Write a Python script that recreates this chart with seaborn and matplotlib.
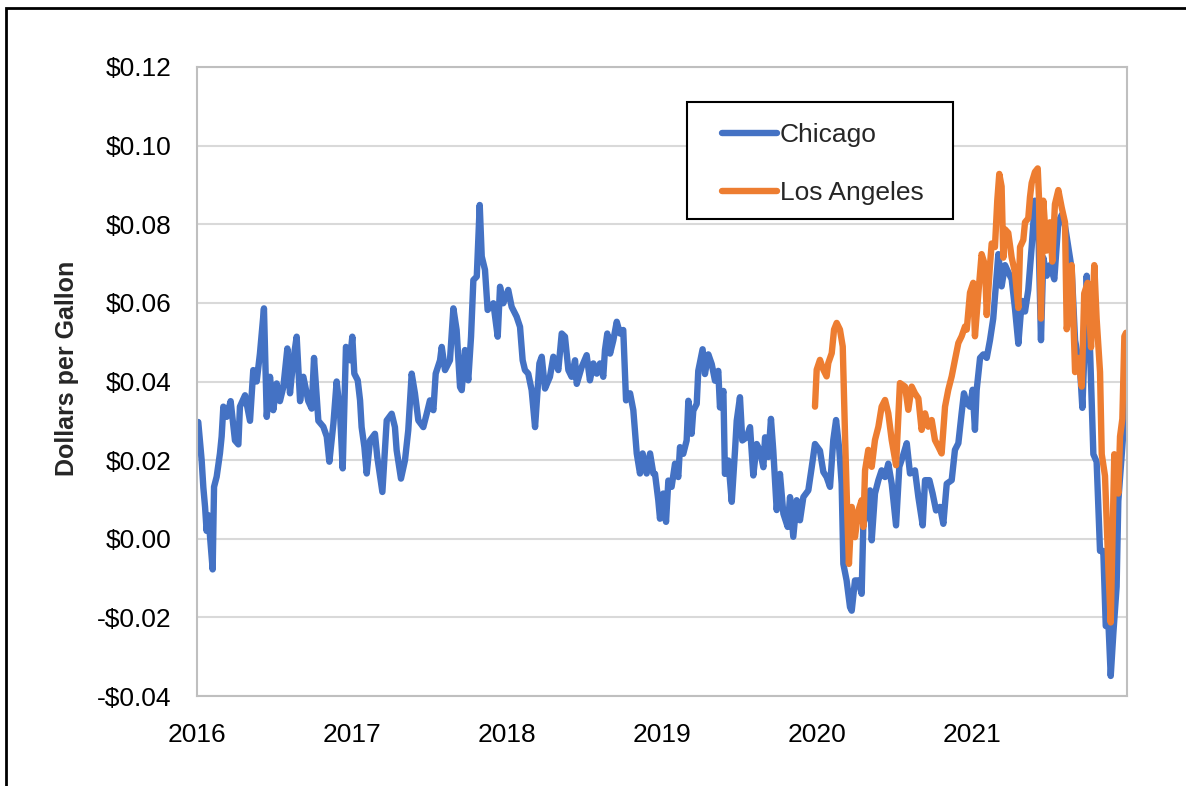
import numpy as np
import pandas as pd
import matplotlib
matplotlib.use("Agg")
import matplotlib.pyplot as plt
from matplotlib.patches import Rectangle
import seaborn as sns

# values (x in decimal years, y in $/gallon)
chi_year = [
    2016.008, 2016.030, 2016.041, 2016.052, 2016.062, 2016.073, 2016.101, 2016.110, 2016.127, 2016.148,
    2016.159, 2016.170, 2016.191, 2016.217, 2016.245, 2016.267, 2016.277, 2016.310, 2016.342, 2016.363,
    2016.385, 2016.406, 2016.432, 2016.450, 2016.471, 2016.492, 2016.514, 2016.535, 2016.557, 2016.583,
    2016.600, 2016.621, 2016.643, 2016.665, 2016.686, 2016.718, 2016.740, 2016.755, 2016.783, 2016.815,
    2016.837, 2016.854, 2016.880, 2016.901, 2016.923, 2016.940, 2016.961, 2016.987, 2017.002, 2017.015,
    2017.037, 2017.052, 2017.062, 2017.080, 2017.095, 2017.116, 2017.148, 2017.163, 2017.196, 2017.224,
    2017.256, 2017.277, 2017.288, 2017.316, 2017.342, 2017.363, 2017.385, 2017.406, 2017.428, 2017.460,
    2017.482, 2017.503, 2017.525, 2017.540, 2017.568, 2017.579, 2017.600, 2017.632, 2017.654, 2017.675,
    2017.697, 2017.708, 2017.729, 2017.750, 2017.768, 2017.783, 2017.805, 2017.824, 2017.837, 2017.858,
    2017.875, 2017.912, 2017.940, 2017.955, 2017.976, 2018.008, 2018.030, 2018.062, 2018.084, 2018.101,
    2018.116, 2018.137, 2018.159, 2018.181, 2018.196, 2018.209, 2018.224, 2018.245, 2018.277, 2018.299,
    2018.331, 2018.353, 2018.374, 2018.396, 2018.417, 2018.439, 2018.450, 2018.482, 2018.514, 2018.535,
    2018.557, 2018.579, 2018.600, 2018.621, 2018.632, 2018.647, 2018.665, 2018.686, 2018.708, 2018.729,
    2018.750, 2018.768, 2018.794, 2018.815, 2018.837, 2018.858, 2018.875, 2018.901, 2018.923, 2018.944,
    2018.955, 2018.976, 2018.987, 2019.008, 2019.026, 2019.041, 2019.062, 2019.084, 2019.105, 2019.116,
    2019.137, 2019.159, 2019.170, 2019.191, 2019.202, 2019.224, 2019.234, 2019.262, 2019.277, 2019.299,
    2019.321, 2019.342, 2019.363, 2019.374, 2019.396, 2019.406, 2019.428, 2019.450, 2019.471, 2019.482,
    2019.503, 2019.518, 2019.546, 2019.568, 2019.589, 2019.611, 2019.632, 2019.654, 2019.665, 2019.686,
    2019.703, 2019.718, 2019.740, 2019.761, 2019.783, 2019.811, 2019.826, 2019.847, 2019.869, 2019.890,
    2019.912, 2019.944, 2019.966, 2019.987, 2020.019, 2020.041, 2020.062, 2020.084, 2020.105, 2020.123,
    2020.144, 2020.159, 2020.170, 2020.191, 2020.213, 2020.224, 2020.245, 2020.267, 2020.288, 2020.299,
    2020.321, 2020.342, 2020.353, 2020.374, 2020.396, 2020.417, 2020.439, 2020.460, 2020.482, 2020.510,
    2020.531, 2020.553, 2020.579, 2020.600, 2020.632, 2020.654, 2020.682, 2020.697, 2020.725, 2020.746,
    2020.768, 2020.794, 2020.815, 2020.837, 2020.869, 2020.890, 2020.912, 2020.933, 2020.948, 2020.966,
    2020.987, 2021.004, 2021.019, 2021.030, 2021.052, 2021.073, 2021.095, 2021.116, 2021.137, 2021.159,
    2021.170, 2021.191, 2021.213, 2021.234, 2021.256, 2021.277, 2021.299, 2021.321, 2021.342, 2021.363,
    2021.385, 2021.406, 2021.428, 2021.445, 2021.460, 2021.482, 2021.503, 2021.531, 2021.557, 2021.579,
    2021.600, 2021.621, 2021.643, 2021.665, 2021.697, 2021.712, 2021.729, 2021.740, 2021.761, 2021.783,
    2021.804, 2021.826, 2021.847, 2021.863, 2021.880, 2021.895, 2021.912, 2021.933, 2021.944, 2021.966,
    2021.983, 2021.994,
]
chi_val = [
    0.0297, 0.0200, 0.0130, 0.0081, 0.0020, 0.0060, -0.0078, 0.0132, 0.0158, 0.0217,
    0.0260, 0.0336, 0.0310, 0.0350, 0.0250, 0.0240, 0.0336, 0.0365, 0.0300, 0.0429,
    0.0400, 0.0471, 0.0586, 0.0310, 0.0412, 0.0327, 0.0395, 0.0350, 0.0386, 0.0484,
    0.0370, 0.0454, 0.0514, 0.0350, 0.0412, 0.0350, 0.0331, 0.0460, 0.0300, 0.0285,
    0.0260, 0.0196, 0.0293, 0.0400, 0.0318, 0.0179, 0.0488, 0.0454, 0.0514, 0.0420,
    0.0403, 0.0352, 0.0284, 0.0233, 0.0166, 0.0250, 0.0267, 0.0208, 0.0119, 0.0301,
    0.0318, 0.0284, 0.0225, 0.0153, 0.0200, 0.0276, 0.0420, 0.0370, 0.0301, 0.0284,
    0.0318, 0.0352, 0.0327, 0.0420, 0.0454, 0.0488, 0.0429, 0.0454, 0.0586, 0.0531,
    0.0386, 0.0378, 0.0480, 0.0403, 0.0514, 0.0658, 0.0667, 0.0849, 0.0718, 0.0684,
    0.0582, 0.0599, 0.0514, 0.0641, 0.0599, 0.0633, 0.0590, 0.0565, 0.0539, 0.0454,
    0.0429, 0.0420, 0.0378, 0.0284, 0.0370, 0.0446, 0.0463, 0.0382, 0.0412, 0.0463,
    0.0429, 0.0522, 0.0514, 0.0429, 0.0412, 0.0454, 0.0394, 0.0437, 0.0467, 0.0403,
    0.0446, 0.0420, 0.0446, 0.0412, 0.0480, 0.0522, 0.0471, 0.0505, 0.0552, 0.0522,
    0.0531, 0.0352, 0.0370, 0.0327, 0.0217, 0.0166, 0.0217, 0.0166, 0.0217, 0.0166,
    0.0165, 0.0098, 0.0051, 0.0115, 0.0043, 0.0148, 0.0132, 0.0191, 0.0157, 0.0233,
    0.0216, 0.0250, 0.0351, 0.0267, 0.0326, 0.0343, 0.0427, 0.0482, 0.0419, 0.0469,
    0.0444, 0.0402, 0.0427, 0.0334, 0.0376, 0.0165, 0.0199, 0.0094, 0.0224, 0.0300,
    0.0360, 0.0250, 0.0258, 0.0284, 0.0161, 0.0241, 0.0224, 0.0182, 0.0258, 0.0208,
    0.0305, 0.0224, 0.0073, 0.0165, 0.0064, 0.0030, 0.0106, 0.0005, 0.0098, 0.0047,
    0.0106, 0.0123, 0.0182, 0.0241, 0.0224, 0.0170, 0.0157, 0.0132, 0.0251, 0.0302,
    0.0226, 0.0140, -0.0064, -0.0106, -0.0174, -0.0183, -0.0106, -0.0106, -0.0140, 0.0038,
    0.0064, 0.0123, -0.0004, 0.0115, 0.0149, 0.0174, 0.0157, 0.0191, 0.0140, 0.0034,
    0.0183, 0.0209, 0.0243, 0.0166, 0.0174, 0.0106, 0.0034, 0.0149, 0.0149, 0.0115,
    0.0072, 0.0081, 0.0038, 0.0140, 0.0149, 0.0226, 0.0243, 0.0319, 0.0370, 0.0345,
    0.0336, 0.0379, 0.0277, 0.0378, 0.0460, 0.0469, 0.0460, 0.0505, 0.0560, 0.0669,
    0.0724, 0.0642, 0.0696, 0.0678, 0.0660, 0.0587, 0.0496, 0.0605, 0.0578, 0.0633,
    0.0742, 0.0860, 0.0787, 0.0505, 0.0715, 0.0669, 0.0696, 0.0660, 0.0805, 0.0824,
    0.0796, 0.0742, 0.0687, 0.0505, 0.0433, 0.0333, 0.0515, 0.0669, 0.0487, 0.0215,
    0.0196, -0.0031, -0.0031, -0.0222, -0.0213, -0.0349, -0.0240, -0.0122, 0.0096, 0.0215,
    0.0305, 0.0451,
]

la_year = [
    2019.987, 2019.998, 2020.019, 2020.041, 2020.062, 2020.073, 2020.095, 2020.110, 2020.127, 2020.148,
    2020.166, 2020.181, 2020.196, 2020.206, 2020.224, 2020.245, 2020.267, 2020.288, 2020.299, 2020.310,
    2020.331, 2020.353, 2020.374, 2020.396, 2020.417, 2020.439, 2020.460, 2020.482, 2020.510, 2020.535,
    2020.568, 2020.589, 2020.611, 2020.632, 2020.654, 2020.675, 2020.697, 2020.718, 2020.740, 2020.761,
    2020.783, 2020.804, 2020.826, 2020.847, 2020.869, 2020.890, 2020.912, 2020.933, 2020.955, 2020.966,
    2020.987, 2021.008, 2021.019, 2021.041, 2021.062, 2021.084, 2021.095, 2021.116, 2021.127, 2021.148,
    2021.163, 2021.176, 2021.191, 2021.202, 2021.213, 2021.234, 2021.256, 2021.277, 2021.299, 2021.310,
    2021.331, 2021.342, 2021.363, 2021.374, 2021.385, 2021.406, 2021.424, 2021.432, 2021.445, 2021.460,
    2021.482, 2021.503, 2021.518, 2021.535, 2021.557, 2021.579, 2021.600, 2021.611, 2021.632, 2021.643,
    2021.665, 2021.686, 2021.708, 2021.724, 2021.746, 2021.768, 2021.789, 2021.804, 2021.826, 2021.837,
    2021.858, 2021.880, 2021.895, 2021.918, 2021.944, 2021.955, 2021.970, 2021.983, 2021.994,
]
la_val = [
    0.0336, 0.0430, 0.0455, 0.0430, 0.0413, 0.0447, 0.0472, 0.0532, 0.0549, 0.0532,
    0.0489, 0.0260, 0.0055, -0.0064, 0.0081, 0.0004, 0.0072, 0.0098, 0.0030, 0.0174,
    0.0226, 0.0183, 0.0251, 0.0285, 0.0336, 0.0353, 0.0319, 0.0251, 0.0187, 0.0396,
    0.0387, 0.0328, 0.0387, 0.0370, 0.0357, 0.0277, 0.0319, 0.0285, 0.0302, 0.0251,
    0.0234, 0.0217, 0.0336, 0.0379, 0.0413, 0.0455, 0.0498, 0.0515, 0.0540, 0.0532,
    0.0626, 0.0651, 0.0515, 0.0624, 0.0724, 0.0696, 0.0569, 0.0696, 0.0751, 0.0742,
    0.0860, 0.0928, 0.0896, 0.0715, 0.0787, 0.0778, 0.0715, 0.0678, 0.0587, 0.0742,
    0.0760, 0.0805, 0.0815, 0.0869, 0.0905, 0.0933, 0.0942, 0.0869, 0.0560, 0.0860,
    0.0733, 0.0805, 0.0705, 0.0851, 0.0887, 0.0842, 0.0805, 0.0533, 0.0587, 0.0696,
    0.0424, 0.0460, 0.0387, 0.0624, 0.0651, 0.0487, 0.0696, 0.0560, 0.0424, 0.0215,
    0.0160, -0.0076, -0.0213, 0.0215, 0.0115, 0.0260, 0.0305, 0.0515, 0.0524,
]

year_ticks = [2016, 2017, 2018, 2019, 2020, 2021]
y_ticks = [-0.04, -0.02, 0.00, 0.02, 0.04, 0.06, 0.08, 0.10, 0.12]

df = pd.concat([
    pd.DataFrame({"year": chi_year, "value": chi_val, "city": "Chicago"}),
    pd.DataFrame({"year": la_year, "value": la_val, "city": "Los Angeles"}),
])

sns.set_style("white")
plt.rcParams["font.family"] = ["Liberation Sans", "DejaVu Sans"]

fig = plt.figure(figsize=(11.86, 7.86), dpi=100)
ax = fig.add_axes([197 / 1186, 1 - 696 / 786, 930 / 1186, 629 / 786])

sns.lineplot(data=df, x="year", y="value", hue="city",
             palette={"Chicago": "#4472C4", "Los Angeles": "#ED7D31"},
             estimator=None, sort=False, linewidth=4.6, ax=ax)
for ln in ax.get_lines():
    ln.set_solid_capstyle("round")
    ln.set_solid_joinstyle("round")

ax.set_xlim(2016, 2022)
ax.set_ylim(-0.04, 0.12)
ax.set_xticks(year_ticks)
ax.set_xticklabels([str(y) for y in year_ticks])
ax.set_yticks(y_ticks)
ax.set_yticklabels([("-$%.2f" % abs(v)) if v < 0 else ("$%.2f" % v) for v in y_ticks])
ax.grid(axis="y", color="#D9D9D9", linewidth=1.5)
ax.set_axisbelow(True)
for s in ax.spines.values():
    s.set_color("#BFBFBF")
    s.set_linewidth(1.5)
ax.tick_params(axis="both", which="major", length=6.5, width=1.5, color="#BFBFBF",
               labelsize=19, labelcolor="black")
ax.tick_params(axis="y", pad=12)
ax.tick_params(axis="x", pad=13)
ax.set_xlabel("")
ax.set_ylabel("Dollars per Gallon", fontsize=18, fontweight="bold")
ax.yaxis.set_label_coords(-0.127, 0.5215)

# legend box drawn as its own rectangle so its size matches the original
ax.add_patch(Rectangle((490 / 930, (696 - 219) / 629), 266 / 930, 117 / 629,
                       transform=ax.transAxes, fill=True, facecolor="white",
                       edgecolor="black", linewidth=1.5, zorder=5))
leg = ax.legend(loc="upper left", bbox_to_anchor=(525 / 930, (696 - 123) / 629), fontsize=19,
                frameon=False, handlelength=2.1, handletextpad=0.1, labelspacing=1.3,
                borderpad=0, borderaxespad=0)
leg.set_zorder(6)
for h in leg.get_lines():
    h.set_linewidth(4.6)
    h.set_solid_capstyle("round")

# outer chart border (runs off the right and bottom edge in the original)
fig.patches.append(Rectangle((6 / 1186, -0.1), 2.0, (786 - 8) / 786 + 0.1,
                             transform=fig.transFigure, fill=False,
                             edgecolor="black", linewidth=2.0, zorder=10))

fig.savefig("out.png", dpi=100)
